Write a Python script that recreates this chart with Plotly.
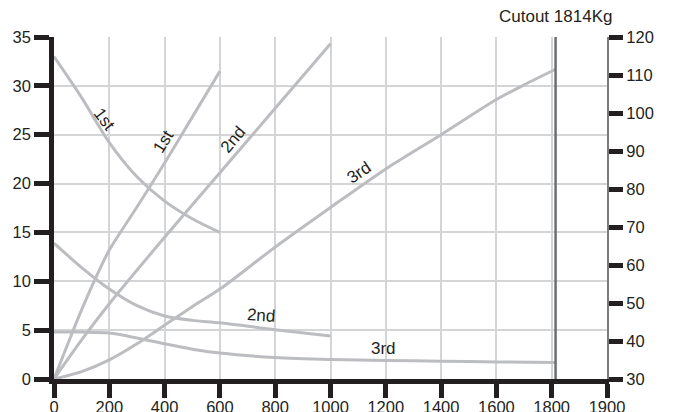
import plotly.graph_objects as go

# load (kg) vs speed / pull curves per gear
first_dec_x = [0, 100, 200, 300, 400, 500, 600]
first_dec_y = [33.0, 28.8, 24.2, 20.7, 18.2, 16.4, 15.0]

first_inc_x = [0, 50, 100, 150, 200, 300, 400, 500, 600]
first_inc_y = [0, 3.6, 7.1, 10.3, 13.2, 17.6, 22.1, 26.8, 31.5]

second_inc_x = [0, 100, 200, 400, 600, 800, 1000]
second_inc_y = [0, 4.0, 7.7, 14.5, 21.1, 27.7, 34.3]

third_inc_x = [0, 100, 200, 300, 400, 500, 600, 800, 1000, 1200, 1400, 1600, 1700, 1814]
third_inc_y = [0, 0.75, 1.95, 3.6, 5.5, 7.4, 9.2, 13.5, 17.55, 21.5, 25.0, 28.6, 30.1, 31.7]

second_dec_x = [0, 100, 200, 300, 400, 500, 600, 800, 1000]
second_dec_y = [13.9, 11.4, 9.2, 7.5, 6.45, 6.0, 5.75, 5.05, 4.4]

third_dec_x = [0, 100, 200, 300, 400, 500, 600, 800, 1000, 1200, 1400, 1600, 1814]
third_dec_y = [4.8, 4.8, 4.7, 4.2, 3.6, 3.05, 2.65, 2.2, 2.0, 1.9, 1.82, 1.75, 1.7]

cutout = 1814

# tick labels
x_tick_vals = [0, 200, 400, 600, 800, 1000, 1200, 1400, 1600, 1800, 2000]
x_tick_text = ["0", "200", "400", "600", "800", "1000", "1200", "1400", "1600", "1800", "1900"]
y_left_ticks = [0, 5, 10, 15, 20, 25, 30, 35]
y_right_ticks = [30, 40, 50, 60, 70, 80, 90, 100, 110, 120]

# curve labels: text, x, y, angle
labels = [
    ("1st", 183, 26.6, 53),
    ("1st", 396, 24.3, -58),
    ("2nd", 648, 24.5, -50),
    ("3rd", 1104, 21.1, -34),
    ("2nd", 750, 6.5, 4),
    ("3rd", 1191, 3.1, 0),
]

curve_col = "#bcbdc0"
ink = "#231f20"
grid_col = "#d4d5d7"
font = "Liberation Sans, Arial, sans-serif"

fig = go.Figure()

for xs, ys in [(first_dec_x, first_dec_y), (first_inc_x, first_inc_y),
               (second_inc_x, second_inc_y), (third_inc_x, third_inc_y),
               (second_dec_x, second_dec_y), (third_dec_x, third_dec_y)]:
    fig.add_trace(go.Scatter(x=xs, y=ys, mode="lines",
                             line=dict(color=curve_col, width=3, shape="spline", smoothing=0.8),
                             showlegend=False, hoverinfo="skip"))

# invisible trace so the right axis gets drawn
fig.add_trace(go.Scatter(x=[0, 0], y=[y_right_ticks[0], y_right_ticks[-1]], yaxis="y2",
                         mode="lines", line=dict(width=0), opacity=0,
                         showlegend=False, hoverinfo="skip"))

# cutout line
fig.add_shape(type="line", xref="x", yref="paper", x0=cutout, x1=cutout, y0=0, y1=1,
              line=dict(color="#6d6e70", width=2.5))

for txt, lx, ly, ang in labels:
    fig.add_annotation(x=lx, y=ly, text=txt, showarrow=False, textangle=ang,
                       font=dict(size=17, color=ink, family=font))

fig.add_annotation(x=cutout, xref="x", y=1.06, yref="paper", yanchor="middle",
                   text="Cutout 1814Kg", showarrow=False,
                   font=dict(size=17, color=ink, family=font))

fig.update_layout(
    width=675, height=412,
    margin=dict(l=54, r=68, t=37, b=33, autoexpand=False),
    plot_bgcolor="white", paper_bgcolor="white",
    font=dict(family=font, size=16.5, color=ink),
    xaxis=dict(range=[0, 2000], tickvals=x_tick_vals, ticktext=x_tick_text, automargin=False,
               showgrid=True, gridcolor=grid_col, gridwidth=1.5, zeroline=False,
               showline=True, linecolor=ink, linewidth=4.5,
               ticks="outside", ticklen=14, tickwidth=4.5, tickcolor=ink,
               ticklabelstandoff=-5),
    yaxis=dict(range=[0, 35], tickvals=y_left_ticks, automargin=False,
               showgrid=True, gridcolor=grid_col, gridwidth=1.5, zeroline=False,
               showline=True, linecolor=ink, linewidth=4.5,
               ticks="outside", ticklen=15, tickwidth=4.5, tickcolor=ink),
    yaxis2=dict(range=[30, 120], tickvals=y_right_ticks, overlaying="y", side="right",
                automargin=False, showgrid=False, zeroline=False,
                showline=True, linecolor="#7a7b7d", linewidth=2,
                ticks="outside", ticklen=14, tickwidth=4.5, tickcolor=ink),
)

# drop the browser's default page margin so the figure sits at 0,0
fig.write_html("out.html", config={"displayModeBar": False},
               post_script="document.body.style.margin='0';")
